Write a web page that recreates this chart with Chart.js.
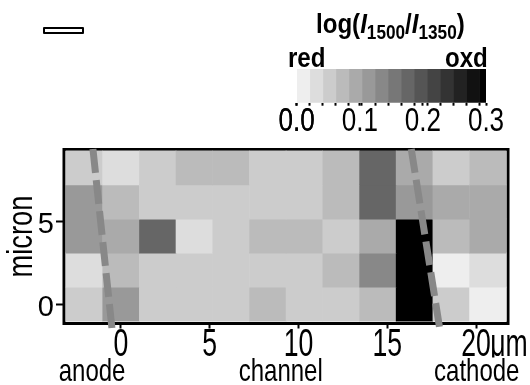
<!DOCTYPE html>
<html>
<head>
<meta charset="utf-8">
<script src="https://cdn.jsdelivr.net/npm/chart.js@4.4.1/dist/chart.umd.min.js"></script>
<style>
  body { margin: 0; background: #fff; }
  #wrap { position: relative; width: 530px; height: 385px; overflow: hidden; }
  #wrap canvas { position: absolute; }
  .lbl { position: absolute; font-family: 'Liberation Sans', Arial, sans-serif;
         font-weight: bold; font-size: 28px; line-height: 28px; white-space: nowrap; color: #000;
         transform: scaleX(0.86); transform-origin: 0 0; }
  .lbl.r { transform-origin: 100% 0; }
  .lbl sub { font-size: 20px; vertical-align: -6px; line-height: 0; }
  #scalebar { position: absolute; left: 43px; top: 27px; width: 41px; height: 7px;
              border: 2px solid #000; border-radius: 1px; box-sizing: border-box; }
</style>
</head>
<body>
<div id="wrap">
  <canvas id="main" width="530" height="385" style="left:0;top:0;width:530px;height:385px"></canvas>
  <canvas id="cbar" width="250" height="85" style="left:270px;top:55px;width:250px;height:85px"></canvas>
  <div id="scalebar"></div>
  <div class="lbl" style="left:316px;top:10px">log(<i>I</i><sub>1500</sub>/<i>I</i><sub>1350</sub>)</div>
  <div class="lbl" style="left:288px;top:44px">red</div>
  <div class="lbl r" style="right:42px;top:44px">oxd</div>
</div>
<script>
/* Raman map: log(I1500/I1350) across the channel, grey colour scale */
(function () {
  "use strict";
  var FONT = "'Liberation Sans', Arial, sans-serif";

  // ---------- data ----------
  // map pixel centres (µm)
  var xCenters = [-2.07, 0, 2.07, 4.13, 6.2, 8.27, 10.33, 12.4, 14.47, 16.53, 18.6, 20.67];
  var yCenters = [8.2, 6.15, 4.1, 2.05, 0];
  // log(I1500/I1350), one list per row, top row first
  var row8 = [0.05, 0.03, 0.05, 0.07, 0.07, 0.05, 0.05, 0.07, 0.17, 0.09, 0.05, 0.07];
  var row6 = [0.11, 0.07, 0.05, 0.05, 0.05, 0.05, 0.05, 0.07, 0.17, 0.11, 0.09, 0.09];
  var row4 = [0.11, 0.09, 0.17, 0.03, 0.05, 0.07, 0.07, 0.05, 0.09, 0.30, 0.07, 0.09];
  var row2 = [0.03, 0.07, 0.05, 0.05, 0.05, 0.05, 0.05, 0.07, 0.13, 0.30, 0.01, 0.03];
  var row0 = [0.05, 0.11, 0.05, 0.05, 0.05, 0.07, 0.05, 0.05, 0.07, 0.30, 0.05, 0.01];

  var xTicks = [0, 5, 10, 15, 20];
  var UNIT_AT = 21.85;               // "µm" sits right after the 20
  var yTicks = [0, 5];
  var regionNames = ["anode", "channel", "cathode"];
  var regionAt = [-1.63, 9, 20.04];

  // electrode edges (dashed)
  var anodeEdge = [{ x: -1.58, y: 9.34 }, { x: -0.51, y: -1.45 }];
  var cathodeEdge = [{ x: 16.35, y: 9.34 }, { x: 17.95, y: -1.45 }];

  // colour scale
  var cbGrays = [0xee, 0xdd, 0xcc, 0xbb, 0xaa, 0x99, 0x88, 0x77, 0x66, 0x55, 0x44, 0x33, 0x22, 0x11, 0x00];
  var cbLabels = [0, 0.1, 0.2, 0.3];
  var CB_MAX = 0.3, CB_STEP = 0.3 / 14.5;

  var X_MIN = -3.21, X_MAX = 21.8, Y_MIN = -1.17, Y_MAX = 9.31;
  var HALF_Y = 1.03;

  function gray(g) { return "rgb(" + g + "," + g + "," + g + ")"; }
  function grayOf(v) {
    var k = Math.min(cbGrays.length - 1, Math.floor(v / CB_STEP));
    return gray(cbGrays[k]);
  }
  function setTicks(vals) {
    return function (s) { s.ticks = vals.map(function (v) { return { value: v }; }); };
  }

  // the figure uses condensed lettering; squeeze canvas text per font size
  var SQUEEZE = { 38: 0.70, 35: 0.78, 33: 0.79, 32: 0.75 };
  function squeezeOf(font) {
    var m = /(\d+(?:\.\d+)?)px/.exec(font);
    return (m && SQUEEZE[+m[1]]) || 1;
  }
  function narrowCtx(canvas) {
    var ctx = canvas.getContext("2d");
    var fill = ctx.fillText, measure = ctx.measureText;
    ctx.fillText = function (text, x, y, maxW) {
      var k = squeezeOf(this.font);
      if (k === 1) return fill.apply(this, arguments);
      this.save();
      this.translate(x, y);
      this.scale(k, 1);
      fill.call(this, text, 0, 0, maxW === undefined ? undefined : maxW / k);
      this.restore();
    };
    ctx.measureText = function (text) {
      var r = measure.call(this, text), k = squeezeOf(this.font);
      return k === 1 ? r : { width: r.width * k };
    };
    return ctx;
  }

  // ---------- main map ----------
  var rows = [row8, row6, row4, row2, row0];
  var heatSets = rows.map(function (row, r) {
    return {
      type: "bar", xAxisID: "xh", yAxisID: "y", order: 2,
      data: row.map(function (v, i) {
        return { x: xCenters[i], y: [yCenters[r] - HALF_Y, yCenters[r] + HALF_Y] };
      }),
      backgroundColor: row.map(grayOf),
      borderWidth: 0, grouped: false, barPercentage: 1, categoryPercentage: 1
    };
  });
  function edgeSet(pts) {
    return {
      type: "line", xAxisID: "x", yAxisID: "y", order: 1, data: pts,
      borderColor: "#888", borderWidth: 7, borderDash: [24, 7.2],
      pointRadius: 0, fill: false, clip: false
    };
  }

  var framePlugin = {
    id: "frame",
    beforeDatasetsDraw: function (chart) {
      var a = chart.chartArea, c = chart.ctx;
      c.save();
      c.strokeStyle = "#000";
      c.lineWidth = 3;
      c.strokeRect(a.left, a.top, a.right - a.left, a.bottom - a.top);
      c.restore();
    }
  };

  new Chart(narrowCtx(document.getElementById("main")), {
    type: "bar",
    data: { datasets: heatSets.concat([edgeSet(anodeEdge), edgeSet(cathodeEdge)]) },
    options: {
      responsive: false, animation: false, events: [],
      layout: { padding: { left: 0, top: 149.5, right: 22, bottom: 0 } },
      plugins: { legend: { display: false }, tooltip: { enabled: false } },
      scales: {
        xh: {
          type: "linear", display: false, offset: false, min: X_MIN, max: X_MAX,
          afterBuildTicks: setTicks([])
        },
        x: {
          type: "linear", position: "bottom", weight: 0, offset: false, min: X_MIN, max: X_MAX,
          afterBuildTicks: setTicks(xTicks.concat([UNIT_AT])),
          ticks: {
            autoSkip: false, maxRotation: 0, minRotation: 0, padding: -2.4, color: "#000",
            font: { family: FONT, size: 38, lineHeight: 1 },
            callback: function (v) { return v === UNIT_AT ? "\u03bcm" : String(v); }
          },
          grid: {
            offset: false, drawOnChartArea: false, tickLength: 5, tickWidth: 2,
            tickColor: function (c) { return c.tick && c.tick.value === UNIT_AT ? "rgba(0,0,0,0)" : "#000"; }
          },
          border: { display: false },
          afterFit: function (s) { s.height = 34; s.paddingLeft = 0; s.paddingRight = 0; }
        },
        x2: {
          type: "linear", position: "bottom", weight: 1, offset: false, min: X_MIN, max: X_MAX,
          afterBuildTicks: setTicks(regionAt),
          ticks: {
            autoSkip: false, maxRotation: 0, minRotation: 0, padding: -1.4, color: "#000",
            font: { family: FONT, size: 32, lineHeight: 1 },
            callback: function (v) { return regionNames[regionAt.indexOf(v)]; }
          },
          grid: { display: false, drawTicks: false },
          border: { display: false },
          afterFit: function (s) { s.height = 27.5; s.paddingLeft = 0; s.paddingRight = 0; }
        },
        y: {
          type: "linear", min: Y_MIN, max: Y_MAX,
          afterBuildTicks: setTicks(yTicks),
          ticks: { padding: 2, labelOffset: 4, color: "#000", font: { family: FONT, size: 29, lineHeight: 1 } },
          grid: { drawOnChartArea: false, tickLength: 8, tickWidth: 2, tickColor: "#000" },
          border: { display: false },
          title: {
            display: true, text: "micron", color: "#000",
            font: { family: FONT, size: 35, lineHeight: 1 }, padding: { top: 5.3, bottom: 0 }
          },
          afterFit: function (s) { s.width = 64; }
        }
      }
    },
    plugins: [framePlugin]
  });

  // ---------- colour bar ----------
  var cbEdges = cbGrays.map(function (g, k) { return k * CB_STEP; });
  var cbSets = cbGrays.map(function (g, k) {
    return {
      data: [[k * CB_STEP, Math.min(CB_MAX, (k + 1) * CB_STEP)]],
      backgroundColor: gray(g), borderWidth: 0, grouped: false,
      barPercentage: 1, categoryPercentage: 1
    };
  });

  new Chart(narrowCtx(document.getElementById("cbar")), {
    type: "bar",
    data: { labels: [""], datasets: cbSets },
    options: {
      indexAxis: "y", responsive: false, animation: false, events: [],
      layout: { padding: { left: 26.7, right: 34, top: 14, bottom: 0 } },
      plugins: { legend: { display: false }, tooltip: { enabled: false } },
      scales: {
        y: { display: false },
        x: {
          type: "linear", min: 0, max: CB_MAX,
          afterBuildTicks: setTicks(cbEdges.concat(cbLabels)),
          ticks: {
            autoSkip: false, maxRotation: 0, padding: -0.4, color: "#000",
            font: { family: FONT, size: 33, lineHeight: 1 },
            callback: function (v) { return cbLabels.indexOf(v) >= 0 ? v.toFixed(1) : ""; }
          },
          grid: { drawOnChartArea: false, tickLength: 3, tickWidth: 2, tickColor: "#000" },
          border: { display: false },
          afterFit: function (s) { s.height = 37.3; s.paddingLeft = 0; s.paddingRight = 0; }
        }
      }
    }
  });
})();
</script>
</body>
</html>
